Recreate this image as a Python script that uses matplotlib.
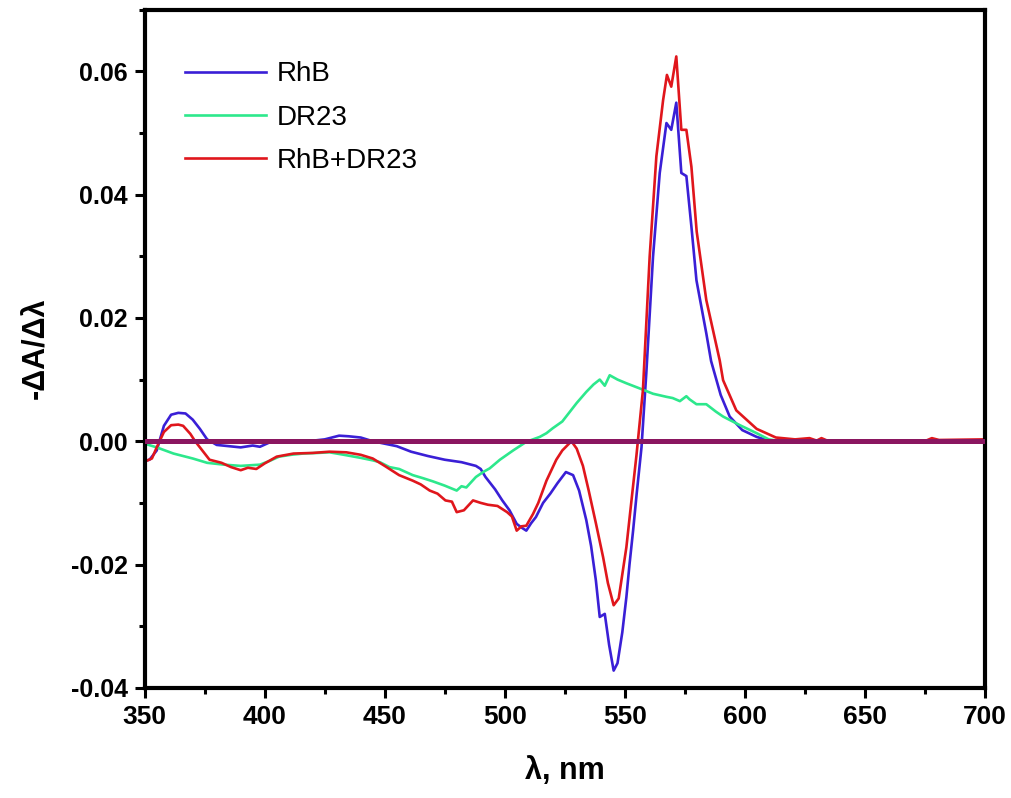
import matplotlib
matplotlib.use("Agg")
import matplotlib.pyplot as plt
from matplotlib.ticker import MultipleLocator
from matplotlib import font_manager as fm

# 数据：从图中读取（波长 nm，-ΔA/Δλ）
rhb_nm = [350, 352, 355, 358, 361, 364, 367, 370, 373, 376, 380, 385, 390, 395, 398,
          402, 410, 418, 425, 431, 435, 440, 445, 450, 455, 461, 468, 475, 482, 488,
          490, 492, 496, 499, 502, 505, 507, 509, 511, 513, 516, 519, 522, 525.5, 528.5,
          531, 534, 536, 538, 539.6, 541.7, 543.5, 545.4, 547, 549, 550.7, 552, 553.5,
          555, 557, 559, 561.8, 564.6, 567.4, 569.4, 571.5, 573.6, 575.7, 577.8, 579.9,
          584, 586, 590, 593.75, 599, 605, 610, 615]
rhb_val = [-0.0032, -0.0030, -0.0015, 0.0025, 0.0043, 0.0046, 0.0045, 0.0035, 0.0020, 0.0003,
           -0.0006, -0.0008, -0.0010, -0.0007, -0.0009, -0.0002, 0.0001, 0.0000, 0.0003, 0.0009,
           0.0008, 0.0006, 0.0000, -0.0004, -0.0008, -0.0017, -0.0024, -0.0030, -0.0034, -0.0040,
           -0.0045, -0.0058, -0.0078, -0.0096, -0.0112, -0.0134, -0.0140, -0.0145, -0.0133, -0.0123,
           -0.0100, -0.0085, -0.0068, -0.0050, -0.0055, -0.0080, -0.0128, -0.0170, -0.0226, -0.0285,
           -0.0280, -0.0330, -0.0372, -0.0360, -0.0310, -0.0253, -0.0200, -0.0145, -0.0085, -0.0010,
           0.0110, 0.0299, 0.0435, 0.0516, 0.0505, 0.0549, 0.0435, 0.0430, 0.0348, 0.0261,
           0.0175, 0.0130, 0.0075, 0.0040, 0.0018, 0.0007, 0.0001, 0.0000]

dr_nm = [350, 355, 362, 370, 376, 383, 390, 398, 402, 406, 411, 416, 422, 427, 433, 440,
         445, 448, 452, 456, 461.7, 466, 470, 475, 480, 482, 484, 488, 491, 493.75, 498,
         503.5, 509, 514.6, 517.4, 520, 524, 527, 530, 534, 537, 539.6, 541.7, 543.75, 547,
         550.7, 556, 561.8, 567.4, 570, 573, 575.7, 577, 579.9, 584, 588, 591, 598, 605,
         610, 615]
dr_val = [-0.0004, -0.0010, -0.0020, -0.0028, -0.0035, -0.0038, -0.0040, -0.0038, -0.0032,
          -0.0025, -0.0022, -0.0020, -0.0019, -0.0018, -0.0022, -0.0027, -0.0031, -0.0034,
          -0.0042, -0.0045, -0.0055, -0.0060, -0.0065, -0.0072, -0.0080, -0.0073, -0.0075,
          -0.0058, -0.0050, -0.0044, -0.0030, -0.0015, -0.0001, 0.0007, 0.0013, 0.0021, 0.0032,
          0.0047, 0.0062, 0.0080, 0.0092, 0.0100, 0.0090, 0.0107, 0.0100, 0.0094, 0.0086,
          0.0077, 0.0072, 0.0070, 0.0065, 0.0073, 0.0068, 0.0060, 0.0060, 0.0048, 0.0040,
          0.0026, 0.0013, 0.0003, 0.0000]

mix_nm = [350, 353, 355, 358, 361, 364, 366, 369, 371, 374, 377, 382, 386, 390, 393, 396.5,
          400, 405, 412, 420, 427, 434, 440, 445, 450, 456, 461.7, 465, 468.75, 472, 475.3,
          478, 480, 483, 486.8, 490, 493, 497, 501, 503, 505, 507, 509, 511.8, 514, 517.4,
          521.5, 524, 527.8, 530, 532.6, 535, 538, 541, 543, 545.4, 547.5, 550.7, 553, 554.9,
          557.6, 560.4, 563.2, 566, 567.6, 569.4, 571.5, 573.6, 575.7, 577.8, 580, 584,
          589.6, 591, 596.5, 605, 613, 621, 627, 630, 632, 635, 675, 678, 681, 700]
mix_val = [-0.0033, -0.0028, -0.0010, 0.0015, 0.0026, 0.0027, 0.0025, 0.0012, 0.0000, -0.0015,
           -0.0030, -0.0035, -0.0042, -0.0047, -0.0043, -0.0045, -0.0036, -0.0025, -0.0020,
           -0.0019, -0.0017, -0.0018, -0.0022, -0.0028, -0.0040, -0.0055, -0.0064, -0.0070,
           -0.0080, -0.0085, -0.0096, -0.0098, -0.0115, -0.0112, -0.0096, -0.0100, -0.0103,
           -0.0105, -0.0115, -0.0122, -0.0145, -0.0138, -0.0137, -0.0118, -0.0100, -0.0064,
           -0.0030, -0.0015, 0.0000, -0.0012, -0.0040, -0.0080, -0.0133, -0.0188, -0.0230,
           -0.0266, -0.0255, -0.0172, -0.0090, -0.0023, 0.0083, 0.0299, 0.0462, 0.0553, 0.0594,
           0.0575, 0.0624, 0.0505, 0.0505, 0.0445, 0.0340, 0.0229, 0.0131, 0.0099, 0.0050,
           0.0020, 0.0006, 0.0003, 0.0005, 0.0001, 0.0005, 0.0000, 0.0000, 0.0005, 0.0002, 0.0003]

base_nm = [350, 700]
base_val = [0.0, 0.0]

avail = {f.name for f in fm.fontManager.ttflist}
narrow = "Liberation Sans Narrow" if "Liberation Sans Narrow" in avail else "Liberation Sans"
plt.rcParams["font.family"] = ["Liberation Sans", "DejaVu Sans"]

fig = plt.figure(figsize=(10.12, 7.98), dpi=100)
ax = fig.add_axes([0.143, 0.138, 0.830, 0.850])

ax.plot(rhb_nm, rhb_val, color="#3a1fd6", lw=1.9, label="RhB", zorder=2)
ax.plot(dr_nm, dr_val, color="#2de88c", lw=1.9, label="DR23", zorder=2)
ax.plot(mix_nm, mix_val, color="#e0161c", lw=1.9, label="RhB+DR23", zorder=2)
ax.plot(base_nm, base_val, color="#8a1660", lw=3.6, zorder=3)

ax.set_xlim(350, 700)
ax.set_ylim(-0.04, 0.07)
ax.xaxis.set_major_locator(MultipleLocator(50))
ax.xaxis.set_minor_locator(MultipleLocator(25))
ax.yaxis.set_major_locator(MultipleLocator(0.02))
ax.yaxis.set_minor_locator(MultipleLocator(0.01))
ax.set_yticks([-0.04, -0.02, 0.0, 0.02, 0.04, 0.06])
ax.set_yticklabels(["-0.04", "-0.02", "0.00", "0.02", "0.04", "0.06"])

for s in ax.spines.values():
    s.set_linewidth(3)
ax.tick_params(which="major", direction="out", length=7, width=2.2, pad=5)
ax.tick_params(which="minor", direction="out", length=4, width=2.2)
ax.tick_params(axis="both", which="both", top=False, right=False)
for lab in ax.get_yticklabels():
    lab.set_fontweight("bold"); lab.set_fontsize(18)
for lab in ax.get_xticklabels():
    lab.set_fontweight("bold"); lab.set_fontsize(19); lab.set_family([narrow, "DejaVu Sans"])

ax.set_xlabel("λ, nm", fontsize=22, fontweight="bold", labelpad=20)
ax.set_ylabel("-ΔA/Δλ", fontsize=22, fontweight="bold", labelpad=14)

ax.legend(loc="upper left", frameon=False, fontsize=20, handlelength=2.9,
          handletextpad=0.4, labelspacing=0.62, borderaxespad=0.0,
          bbox_to_anchor=(0.035, 0.94))

fig.savefig("out.png", dpi=100)
